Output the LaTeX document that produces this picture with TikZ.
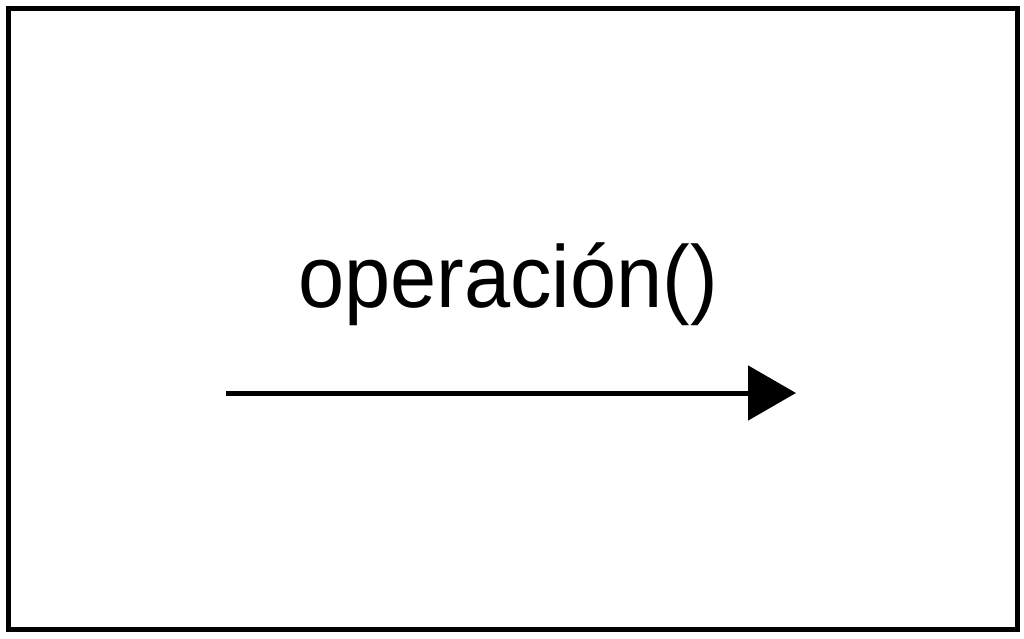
\documentclass[tikz,border=0pt]{standalone}
\usepackage{fontspec}
\setmainfont{Liberation Sans}
\usetikzlibrary{arrows.meta,positioning}

\begin{document}
\begin{tikzpicture}[x=1pt,y=1pt,
  frame/.style={draw=black,line width=5pt},
  msg/.style={-{Triangle[length=48pt,width=54pt]},line width=5pt},
  label/.style={inner sep=0pt,font=\fontsize{88}{100}\selectfont}]
\useasboundingbox (0,0) rectangle (1024,638);
\draw[frame] (8.5,8.5) rectangle (1017.5,629.5);

\coordinate (start) at (226,245);
\coordinate (stop) at (796,245);
\draw[msg] (start) -- (stop);

\node[label,anchor=base] (op) at (508,331) {\scalebox{0.943}[1]{operación()}};
\end{tikzpicture}
\end{document}
